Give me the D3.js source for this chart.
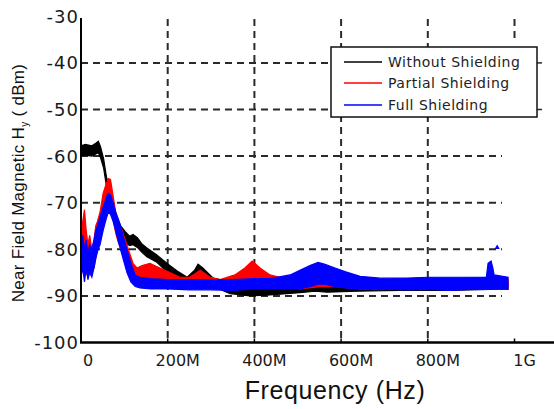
<!DOCTYPE html>
<html>
<head>
<meta charset="utf-8">
<script src="https://cdn.jsdelivr.net/npm/d3@7"></script>
<style>
body { margin: 0; background: #fff; }
svg { display: block; }
</style>
</head>
<body>
<svg id="chart" width="554" height="409"></svg>
<script>
// frequency in MHz, [f, upper dB, lower dB] of the noisy trace
var withoutShielding = [[0,-57.8,-60],[10,-57.5,-59.8],[25,-57.8,-60],[35,-57.2,-59.5],[40,-56.8,-59.3],[45,-58,-60.3],[52,-60.5,-62.5],[58,-64,-66],[65,-67.5,-70],[74,-71,-73.5],[83,-73.2,-75.5],[92,-75,-77.3],[102,-76.2,-78.5],[112,-77.2,-79.2],[120,-76.8,-79],[130,-77.5,-79.6],[140,-78.8,-80.6],[152,-79.7,-81.6],[175,-81.2,-82.8],[198,-83,-84.8],[221,-84.6,-86.3],[245,-86,-87.6],[262,-84.5,-86.3],[270,-83.2,-85.3],[281,-84,-86.2],[305,-86.2,-88],[344,-87,-89.5],[390,-87.3,-90],[436,-87.5,-89.8],[505,-86.8,-89.3],[540,-86.2,-89],[568,-86.5,-89.2],[637,-87.2,-89],[736,-87.2,-88.8],[851,-87.2,-88.8],[944,-87,-88.6],[985,-87,-88.6]];
var partialShielding = [[0,-78,-85],[4,-74,-84],[8,-71.5,-83],[12,-76,-85],[16,-79,-86],[20,-77,-84],[25,-80,-85],[30,-78,-84],[34,-75,-82],[38,-74,-80],[44,-72,-78],[51,-68,-74],[58,-66,-71],[63,-64.8,-69],[68,-65,-70],[74,-68.5,-73.5],[80,-72,-76.5],[86,-74,-78.5],[95,-76,-80.5],[104,-78.5,-82.5],[111,-80.5,-84.5],[120,-83,-86.5],[129,-84,-87.5],[141,-83.5,-87],[159,-83,-86.5],[182,-84,-87],[205,-85,-87.5],[228,-86,-88],[251,-86,-88],[275,-84.5,-87.5],[298,-86,-88],[321,-86.5,-88.5],[355,-85.5,-88],[378,-84,-87],[395,-82.5,-86],[413,-84,-87],[436,-85.5,-88],[459,-86,-88],[505,-86,-88.5],[551,-85.3,-88],[586,-86,-88],[644,-86.5,-88.5],[700,-86.5,-88.5],[760,-86.3,-88.5],[820,-86.5,-88.6],[880,-86.3,-88.5],[940,-86,-88.5],[985,-86.2,-88.5]];
var fullShielding = [[0,-79,-86],[4,-77,-84],[8,-80,-87],[12,-78,-84],[16,-81,-86.5],[20,-79,-85],[25,-80,-86],[30,-78,-84],[34,-76,-82],[38,-75,-80.5],[44,-73,-79],[51,-71,-76],[58,-69,-73.5],[63,-68,-72],[68,-68.3,-72.5],[74,-70,-74],[80,-72,-76],[88,-74,-79],[97,-77,-82],[106,-80,-85],[115,-83,-87],[125,-85.5,-88],[136,-86,-88.3],[160,-86.3,-88.5],[200,-86.5,-88.5],[250,-86.5,-88.7],[300,-86.6,-88.7],[350,-86.5,-88.8],[400,-86.3,-88.5],[436,-86.3,-88.5],[482,-85.5,-88.5],[505,-84.5,-88.5],[528,-83.5,-88],[547,-82.8,-87.5],[563,-83.2,-87.5],[586,-84,-88],[609,-84.8,-88.3],[644,-85.8,-88.5],[690,-86.2,-88.5],[750,-86.2,-88.7],[800,-86,-88.6],[850,-86,-88.8],[900,-86,-88.6],[935,-86,-88.5],[939,-83,-88.5],[946,-82.5,-88.5],[950,-84,-88.5],[953,-85.5,-88.5],[985,-86,-88.5]];
var fullShieldingOutlier = [[960,-79.6]];

var seriesNames = ["Without Shielding", "Partial Shielding", "Full Shielding"];
var seriesColors = ["#000000", "#ff0000", "#0000ff"];

var yTicks = [-30,-40,-50,-60,-70,-80,-90,-100];
var yGrid = [-40,-50,-60,-70,-80,-90];
var xTicks = [0,200,400,600,800,1000];
var xTickLabels = ["0","200M","400M","600M","800M","1G"];
var xGrid = [200,400,600,800];

var svg = d3.select("#chart");

var xScale = d3.scaleLinear().domain([0, 1000]).range([81, 514.5]);
var yScale = d3.scaleLinear().domain([-100, -30]).range([342.5, 16.3]);

//grid
svg.selectAll(".hgrid").data(yGrid).enter()
	.append("line")
	.attr("x1", xScale(0))
	.attr("x2", 502)
	.attr("y1", function(d) { return yScale(d); })
	.attr("y2", function(d) { return yScale(d); })
	.attr("stroke", "#2a2a2a")
	.attr("stroke-width", 2)
	.attr("stroke-dasharray", "7,5");

svg.selectAll(".vgrid").data(xGrid).enter()
	.append("line")
	.attr("x1", function(d) { return xScale(d); })
	.attr("x2", function(d) { return xScale(d); })
	.attr("y1", 19)
	.attr("y2", yScale(-100))
	.attr("stroke", "#2a2a2a")
	.attr("stroke-width", 2)
	.attr("stroke-dasharray", "7,5");

// stub of the 1G grid above the legend
svg.append("line")
	.attr("x1", xScale(1000)).attr("x2", xScale(1000))
	.attr("y1", 19).attr("y2", 43)
	.attr("stroke", "#2a2a2a")
	.attr("stroke-width", 2)
	.attr("stroke-dasharray", "7,5");

//traces
var data = [withoutShielding, partialShielding, fullShielding];

var area = d3.area()
	.x(function(d) { return xScale(d[0]); })
	.y0(function(d) { return yScale(d[2]); })
	.y1(function(d) { return yScale(d[1]); });

svg.selectAll(".trace").data(data).enter()
	.append("path")
	.attr("d", area)
	.attr("fill", function(d, i) { return seriesColors[i]; })
	.attr("stroke", function(d, i) { return seriesColors[i]; })
	.attr("stroke-width", 1.2)
	.attr("stroke-linejoin", "miter");

svg.selectAll(".outlier").data(fullShieldingOutlier).enter()
	.append("path")
	.attr("d", d3.symbol().type(d3.symbolTriangle).size(12))
	.attr("transform", function(d) { return "translate(" + xScale(d[0]) + "," + yScale(d[1]) + ")"; })
	.attr("fill", seriesColors[2]);

//axes
svg.append("line")
	.attr("x1", xScale(0)).attr("x2", xScale(0))
	.attr("y1", 18).attr("y2", yScale(-100))
	.attr("stroke", "#000").attr("stroke-width", 2);

svg.append("line")
	.attr("x1", xScale(0) - 1).attr("x2", 554)
	.attr("y1", yScale(-100)).attr("y2", yScale(-100))
	.attr("stroke", "#000").attr("stroke-width", 2.6);

svg.selectAll(".xtick").data(xTicks).enter()
	.append("line")
	.attr("x1", function(d) { return xScale(d); })
	.attr("x2", function(d) { return xScale(d); })
	.attr("y1", yScale(-100))
	.attr("y2", yScale(-100) - 4)
	.attr("stroke", "#000")
	.attr("stroke-width", 1.5);

svg.selectAll(".xlabel").data(xTicks).enter()
	.append("text")
	.attr("x", function(d) { return xScale(d) + (d === 0 ? 7 : 10); })
	.attr("y", 366)
	.attr("text-anchor", "middle")
	.attr("font-family", "DejaVu Sans, Verdana, sans-serif")
	.attr("font-size", 16)
	.attr("fill", "#1a1a1a")
	.text(function(d, i) { return xTickLabels[i]; });

svg.selectAll(".ylabel").data(yTicks).enter()
	.append("text")
	.attr("x", 79)
	.attr("y", function(d) { return yScale(d) + 6.5; })
	.attr("text-anchor", "end")
	.attr("font-family", "DejaVu Sans, Verdana, sans-serif")
	.attr("font-size", 18)
	.attr("letter-spacing", 1)
	.attr("fill", "#1a1a1a")
	.text(function(d) { return d; });

// small ticks right of the legend
svg.selectAll(".rtick").data([-40, -50]).enter()
	.append("line")
	.attr("x1", 537).attr("x2", 542)
	.attr("y1", function(d) { return yScale(d); })
	.attr("y2", function(d) { return yScale(d); })
	.attr("stroke", "#2a2a2a")
	.attr("stroke-width", 1.5);

//titles
svg.append("text")
	.attr("x", 335)
	.attr("y", 399)
	.attr("text-anchor", "middle")
	.attr("font-family", "Liberation Sans, Arial, sans-serif")
	.attr("font-size", 25)
	.attr("letter-spacing", 0.6)
	.attr("fill", "#111")
	.text("Frequency (Hz)");

var yTitle = svg.append("text")
	.attr("transform", "translate(24,183) rotate(-90)")
	.attr("text-anchor", "middle")
	.attr("font-family", "Liberation Sans, Arial, sans-serif")
	.attr("font-size", 17)
	.attr("letter-spacing", 0.3)
	.attr("fill", "#111");
yTitle.append("tspan").text("Near Field Magnetic H");
yTitle.append("tspan").attr("font-size", 10).attr("dy", 4).text("y");
yTitle.append("tspan").attr("dy", -4).text(" ( dBm)");

//legend
var legend = svg.append("g");
legend.append("rect")
	.attr("x", 331).attr("y", 47)
	.attr("width", 206).attr("height", 70)
	.attr("fill", "#fff")
	.attr("stroke", "#111")
	.attr("stroke-width", 1.5);

var legendY = [62, 83, 105];
legend.selectAll(".lline").data(seriesNames).enter()
	.append("line")
	.attr("x1", 344).attr("x2", 382)
	.attr("y1", function(d, i) { return legendY[i]; })
	.attr("y2", function(d, i) { return legendY[i]; })
	.attr("stroke", function(d, i) { return seriesColors[i]; })
	.attr("stroke-width", 1.5);

legend.selectAll(".ltext").data(seriesNames).enter()
	.append("text")
	.attr("x", 388)
	.attr("y", function(d, i) { return legendY[i] + 5; })
	.attr("font-family", "DejaVu Sans, Verdana, sans-serif")
	.attr("font-size", 14)
	.attr("letter-spacing", 0.5)
	.attr("fill", "#222")
	.text(function(d) { return d; });
</script>
</body>
</html>
